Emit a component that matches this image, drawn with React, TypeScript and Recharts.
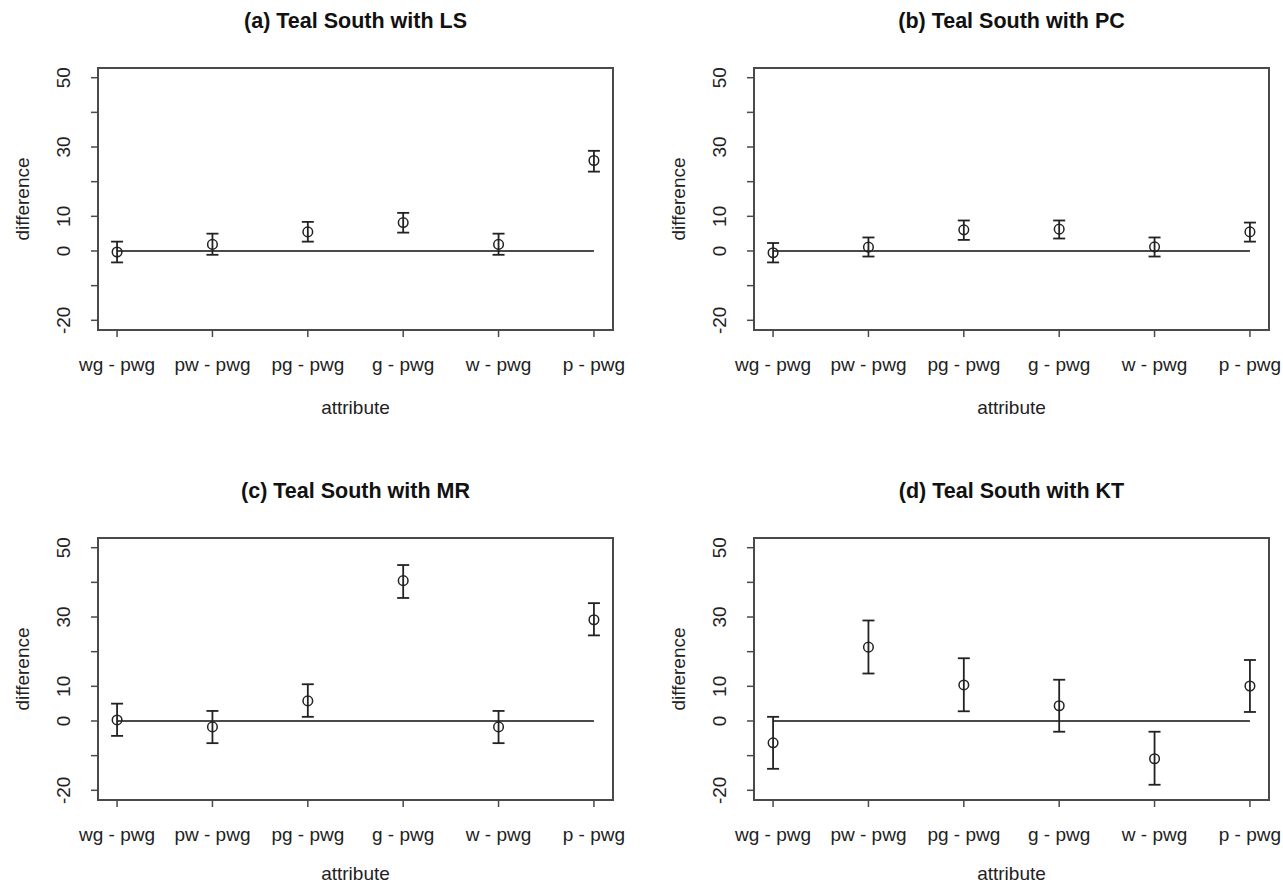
import React from "react";
import {
  ComposedChart,
  Scatter,
  ErrorBar,
  XAxis,
  YAxis,
  ReferenceArea,
  ReferenceLine,
} from "recharts";

const attributes = ["wg - pwg", "pw - pwg", "pg - pwg", "g - pwg", "w - pwg", "p - pwg"];
const yTicks = [-20, -10, 0, 10, 20, 30, 40, 50];
const yTickLabels = [-20, 0, 10, 30, 50];

// (a) LS
const lsMean = [-0.3, 1.9, 5.5, 8.2, 1.9, 26.1];
const lsLow = [-3.3, -1.1, 2.7, 5.3, -1.1, 22.9];
const lsHigh = [2.7, 5.0, 8.4, 11.0, 5.0, 28.9];

// (b) PC
const pcMean = [-0.5, 1.1, 6.1, 6.3, 1.2, 5.5];
const pcLow = [-3.3, -1.6, 3.2, 3.6, -1.6, 2.7];
const pcHigh = [2.3, 3.9, 8.8, 8.8, 3.9, 8.2];

// (c) MR
const mrMean = [0.3, -1.7, 5.8, 40.5, -1.7, 29.2];
const mrLow = [-4.3, -6.4, 1.2, 35.5, -6.4, 24.7];
const mrHigh = [5.0, 2.9, 10.6, 45.0, 2.9, 34.0];

// (d) KT
const ktMean = [-6.3, 21.3, 10.4, 4.4, -10.9, 10.1];
const ktLow = [-13.8, 13.7, 2.8, -3.1, -18.4, 2.6];
const ktHigh = [1.2, 29.0, 18.1, 11.9, -3.1, 17.6];

const FONT = "'Liberation Sans', Arial, Helvetica, sans-serif";
const INK = "#222";
const FRAME = "#4a4a4a";

function rows(mean: number[], low: number[], high: number[]) {
  return attributes.map((a, i) => ({
    x: i + 1,
    name: a,
    y: mean[i],
    err: [mean[i] - low[i], high[i] - mean[i]],
  }));
}

const panels = [
  { title: "(a) Teal South with LS", data: rows(lsMean, lsLow, lsHigh), left: 0, top: 0, boxLeft: 98, boxTop: 68, labelOffset: 0 },
  { title: "(b) Teal South with PC", data: rows(pcMean, pcLow, pcHigh), left: 641, top: 0, boxLeft: 113, boxTop: 68, labelOffset: 0 },
  { title: "(c) Teal South with MR", data: rows(mrMean, mrLow, mrHigh), left: 0, top: 443, boxLeft: 98, boxTop: 95, labelOffset: 4 },
  { title: "(d) Teal South with KT", data: rows(ktMean, ktLow, ktHigh), left: 641, top: 443, boxLeft: 113, boxTop: 95, labelOffset: 4 },
];

const W = 641;
const H = 443;
const BOX_W = 515;
const BOX_H = 262;
const Y_AXIS_W = 78;
const X_AXIS_H = 84;

const YTick = (props: any) => {
  const { x, y, payload } = props;
  if (!yTickLabels.includes(payload.value)) return <g />;
  return (
    <text
      x={x}
      y={y}
      transform={`rotate(-90 ${x} ${y})`}
      textAnchor="middle"
      fontFamily={FONT}
      fontSize={19}
      fill={INK}
    >
      {payload.value}
    </text>
  );
};

const XTick = (props: any) => {
  const { x, y, payload } = props;
  return (
    <text x={x} y={y} dy="0.35em" textAnchor="middle" fontFamily={FONT} fontSize={19} fill={INK}>
      {attributes[payload.value - 1]}
    </text>
  );
};

const Ring = (props: any) => {
  const { cx, cy } = props;
  return <circle cx={cx} cy={cy} r={4.8} fill="none" stroke={INK} strokeWidth={1.5} />;
};

function Panel({ p }: { p: (typeof panels)[number] }) {
  const margin = {
    top: p.boxTop,
    left: p.boxLeft - Y_AXIS_W,
    right: W - p.boxLeft - BOX_W,
    bottom: H - p.boxTop - BOX_H - X_AXIS_H,
  };
  return (
    <div style={{ position: "absolute", left: p.left, top: p.top, width: W, height: H }}>
      <div
        style={{
          position: "absolute",
          left: p.boxLeft,
          width: BOX_W,
          top: p.boxTop - 59,
          textAlign: "center",
          fontFamily: FONT,
          fontWeight: "bold",
          fontSize: 21.5,
          lineHeight: "24px",
          color: "#111",
          whiteSpace: "nowrap",
        }}
      >
        {p.title}
      </div>
      <ComposedChart width={W} height={H} data={p.data} margin={margin}>
        <XAxis
          type="number"
          dataKey="x"
          domain={[0.8, 6.2]}
          ticks={[1, 2, 3, 4, 5, 6]}
          allowDataOverflow
          height={X_AXIS_H}
          axisLine={false}
          tickLine={{ stroke: FRAME, strokeWidth: 1.5 }}
          tickSize={7}
          tickMargin={27}
          tick={<XTick />}
          interval={0}
          label={{
            value: "attribute",
            position: "insideBottom",
            offset: p.labelOffset,
            fontFamily: FONT,
            fontSize: 19,
            fill: INK,
          }}
        />
        <YAxis
          type="number"
          domain={[-22.8, 52.8]}
          ticks={yTicks}
          allowDataOverflow
          width={Y_AXIS_W}
          axisLine={false}
          tickLine={{ stroke: FRAME, strokeWidth: 1.5 }}
          tickSize={7}
          tickMargin={21}
          tick={<YTick />}
          interval={0}
          label={{
            content: (lp: any) => {
              const vb = lp.viewBox;
              const cx = vb.x + 9;
              const cy = vb.y + vb.height / 2;
              return (
                <text
                  x={cx}
                  y={cy}
                  transform={`rotate(-90 ${cx} ${cy})`}
                  textAnchor="middle"
                  fontFamily={FONT}
                  fontSize={19}
                  fill={INK}
                >
                  difference
                </text>
              );
            },
          }}
        />
        <ReferenceArea
          x1={0.8}
          x2={6.2}
          y1={-22.8}
          y2={52.8}
          fill="none"
          fillOpacity={0}
          stroke={FRAME}
          strokeWidth={2}
          ifOverflow="visible"
        />
        <ReferenceLine
          segment={[
            { x: 1, y: 0 },
            { x: 6, y: 0 },
          ]}
          stroke={FRAME}
          strokeWidth={1.8}
          ifOverflow="visible"
        />
        <Scatter dataKey="y" shape={<Ring />} isAnimationActive={false}>
          <ErrorBar
            dataKey="err"
            direction="y"
            width={6}
            stroke={INK}
            strokeWidth={1.8}
            isAnimationActive={false}
          />
        </Scatter>
      </ComposedChart>
    </div>
  );
}

export default function App() {
  return (
    <div
      style={{
        position: "absolute",
        left: 0,
        top: 0,
        width: 1283,
        height: 886,
        background: "#fff",
      }}
    >
      {panels.map((p) => (
        <Panel key={p.title} p={p} />
      ))}
    </div>
  );
}
